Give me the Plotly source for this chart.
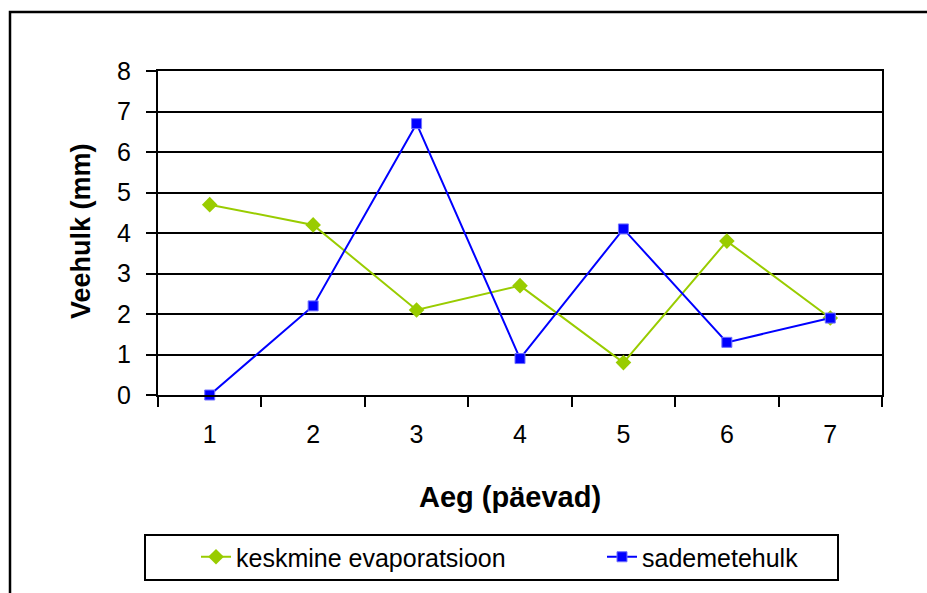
import plotly.graph_objects as go

# Daily water balance: mean evaporation vs precipitation
days = ["1", "2", "3", "4", "5", "6", "7"]
evaporation = [4.7, 4.2, 2.1, 2.7, 0.8, 3.8, 1.9]
precipitation = [0.0, 2.2, 6.7, 0.9, 4.1, 1.3, 1.9]
y_ticks = [0, 1, 2, 3, 4, 5, 6, 7, 8]

W, H = 927, 593
L, R, T, B = 158, 45, 71, 198
pw, ph = W - L - R, H - T - B


def px_x(x):
    return (x - L) / pw


def px_y(y):
    return (H - B - y) / ph


FONT = "Liberation Sans, Arial, sans-serif"

fig = go.Figure()
fig.add_trace(go.Scatter(
    x=days, y=evaporation, name="keskmine evaporatsioon",
    mode="lines+markers", legend="legend",
    line=dict(color="#99CC00", width=2),
    marker=dict(symbol="diamond", size=12, color="#99CC00"),
    cliponaxis=False,
))
fig.add_trace(go.Scatter(
    x=days, y=precipitation, name="sademetehulk",
    mode="lines+markers", legend="legend2",
    line=dict(color="#0000FF", width=2),
    marker=dict(symbol="square", size=10, color="#0000FF",
                line=dict(color="#7070FF", width=1)),
    cliponaxis=False,
))

legend_common = dict(
    orientation="h", xanchor="left", yanchor="middle",
    bgcolor="rgba(0,0,0,0)", borderwidth=0, font=dict(size=25),
    itemwidth=30,
)

fig.update_layout(
    width=W, height=H,
    margin=dict(l=L, r=R, t=T, b=B),
    paper_bgcolor="white", plot_bgcolor="white",
    font=dict(family=FONT, size=25, color="black"),
    showlegend=True,
    legend=dict(x=px_x(196), y=px_y(557), **legend_common),
    legend2=dict(x=px_x(602), y=px_y(557), **legend_common),
    xaxis=dict(
        type="category", categoryorder="array", categoryarray=days,
        range=[-0.5, len(days) - 0.5],
        tickson="boundaries", ticks="outside", ticklen=10, tickwidth=2,
        tickcolor="black", showline=True, linecolor="black", linewidth=2,
        mirror=True, showgrid=False, zeroline=False,
        tickfont=dict(size=25), ticklabelstandoff=16,
    ),
    yaxis=dict(
        range=[0, 8], tickvals=y_ticks, ticks="outside", ticklen=10,
        tickwidth=2, tickcolor="black", showline=True, linecolor="black",
        linewidth=2, mirror=True, showgrid=True, gridcolor="black",
        gridwidth=1.5, zeroline=False, tickfont=dict(size=25),
        ticklabelstandoff=10,
    ),
    annotations=[
        dict(text="<b>Aeg (päevad)</b>", xref="paper", yref="paper",
             x=px_x(510), y=px_y(497), xanchor="center", yanchor="middle",
             showarrow=False, font=dict(size=29)),
        dict(text="<b>Veehulk (mm)</b>", xref="paper", yref="paper",
             x=px_x(81), y=px_y(231), xanchor="center", yanchor="middle",
             textangle=-90, showarrow=False, font=dict(size=27)),
    ],
    shapes=[
        # outer chart frame
        dict(type="rect", xref="paper", yref="paper",
             x0=px_x(10), x1=px_x(940), y0=px_y(610), y1=px_y(12),
             line=dict(color="black", width=2.5), layer="below"),
        # legend frame
        dict(type="rect", xref="paper", yref="paper",
             x0=px_x(145), x1=px_x(838), y0=px_y(580), y1=px_y(535),
             line=dict(color="black", width=2), layer="below"),
    ],
)

fig.write_html("out.html")
